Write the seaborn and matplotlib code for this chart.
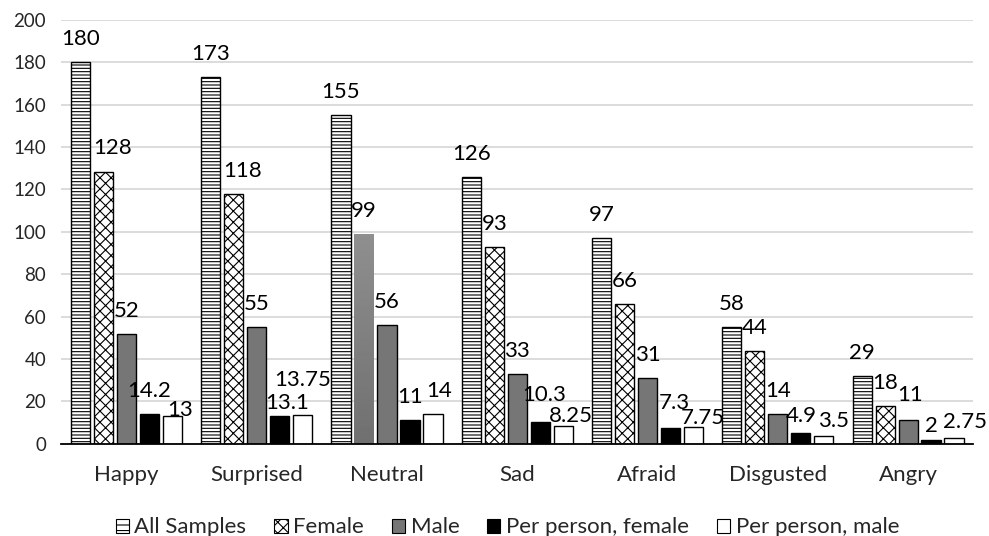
import numpy as np
import pandas as pd
import seaborn as sns
import matplotlib.pyplot as plt
from matplotlib.patches import Patch

emotions = ["Happy", "Surprised", "Neutral", "Sad", "Afraid", "Disgusted", "Angry"]
series = ["All Samples", "Female", "Male", "Per person, female", "Per person, male"]

# bar heights as drawn
all_samples = [180, 173, 155, 126, 97, 55, 32]
female = [128, 118, 99, 93, 66, 44, 18]
male = [52, 55, 56, 33, 31, 14, 11]
pp_female = [14.2, 13.1, 11, 10.3, 7.3, 4.9, 2]
pp_male = [13, 13.75, 14, 8.25, 7.75, 3.5, 2.75]

# data labels as printed
lbl_all = ["180", "173", "155", "126", "97", "58", "29"]
lbl_female = ["128", "118", "99", "93", "66", "44", "18"]
lbl_male = ["52", "55", "56", "33", "31", "14", "11"]
lbl_pp_female = ["14.2", "13.1", "11", "10.3", "7.3", "4.9", "2"]
lbl_pp_male = ["13", "13.75", "14", "8.25", "7.75", "3.5", "2.75"]

values = [all_samples, female, male, pp_female, pp_male]
labels = [lbl_all, lbl_female, lbl_male, lbl_pp_female, lbl_pp_male]

# label nudges (pixels) where the labels were moved apart: (series idx, emotion idx) -> (dx, dy)
nudge = {
    (1, 0): (9, 1), (4, 0): (8, -17),
    (1, 1): (9, 0), (3, 1): (7, -10), (4, 1): (0, 12),
    (4, 2): (6, 0),
    (3, 3): (4, 4), (4, 3): (8, -13),
    (3, 4): (4, 2), (4, 4): (9, -14),
    (3, 5): (0, -6), (4, 5): (10, -8),
    (2, 6): (2, 2), (3, 6): (0, -9), (4, 6): (11, -7),
}

df = pd.DataFrame({
    "emotion": np.tile(emotions, len(series)),
    "series": np.repeat(series, len(emotions)),
    "value": np.concatenate(values),
})

sns.set_theme(style="whitegrid")
plt.rcParams["font.family"] = ["Lato", "DejaVu Sans"]
plt.rcParams["hatch.linewidth"] = 0.8

face = ["white", "white", "#767676", "black", "white"]
hatches = ["-----", "xxx", "", "", ""]

fig, ax = plt.subplots(figsize=(9.89, 5.36), dpi=100)
sns.barplot(data=df, x="emotion", y="value", hue="series", order=emotions,
            hue_order=series, palette=face, edgecolor="black", linewidth=1.0,
            width=0.8825, gap=0.17, saturation=1, legend=False, ax=ax)

px = 72 / fig.dpi
for i, cont in enumerate(ax.containers):
    for j, bar in enumerate(cont):
        bar.set_facecolor(face[i])
        bar.set_hatch(hatches[i])
        bar.set_edgecolor("black")
        dx, dy = nudge.get((i, j), (0, 0))
        ax.annotate(labels[i][j], (bar.get_x() + bar.get_width() / 2, bar.get_height()),
                    xytext=(dx * px, (13 + dy) * px), textcoords="offset points",
                    ha="center", va="bottom", fontsize=16, color="black")

# Neutral female bar drawn with gray gradient, no hatch
nb = ax.containers[1][2]
nb.set_hatch("")
nb.set_facecolor("none")
nb.set_edgecolor("none")
x0, y0 = nb.get_x(), nb.get_y()
w, h = nb.get_width(), nb.get_height()
grad = np.linspace(0.44, 0.56, 100).reshape(-1, 1)
im = ax.imshow(grad, cmap="gray", vmin=0, vmax=1, aspect="auto",
               extent=[x0, x0 + w, y0, y0 + h], origin="lower", zorder=nb.get_zorder())
im.set_clip_path(nb)

ax.set_xlim(-0.5, len(emotions) - 0.5)
ax.set_ylim(0, 200)
ax.set_yticks(range(0, 201, 20))
ax.set_xlabel("")
ax.set_ylabel("")
ax.grid(axis="y", color="#d9d9d9", linewidth=1.3)
ax.grid(axis="x", visible=False)
for s in ["left", "right", "top"]:
    ax.spines[s].set_visible(False)
ax.spines["bottom"].set_color("black")
ax.spines["bottom"].set_linewidth(1.3)
ax.tick_params(axis="y", labelsize=13.5, length=0, pad=11)
ax.tick_params(axis="x", labelsize=16, length=0, pad=15)

handles = [Patch(facecolor=face[i], edgecolor="black", hatch=hatches[i][:3] if hatches[i] else "",
                 linewidth=0.8) for i in range(len(series))]
fig.legend(handles, series, loc="lower center", ncol=5, frameon=False, fontsize=16,
           handlelength=0.6, handleheight=0.6, handletextpad=0.25, columnspacing=1.25,
           bbox_to_anchor=(0.513, -0.04))

fig.subplots_adjust(left=0.062, right=0.984, top=0.963, bottom=0.172)
fig.savefig("out.png", dpi=100)
plt.close()
